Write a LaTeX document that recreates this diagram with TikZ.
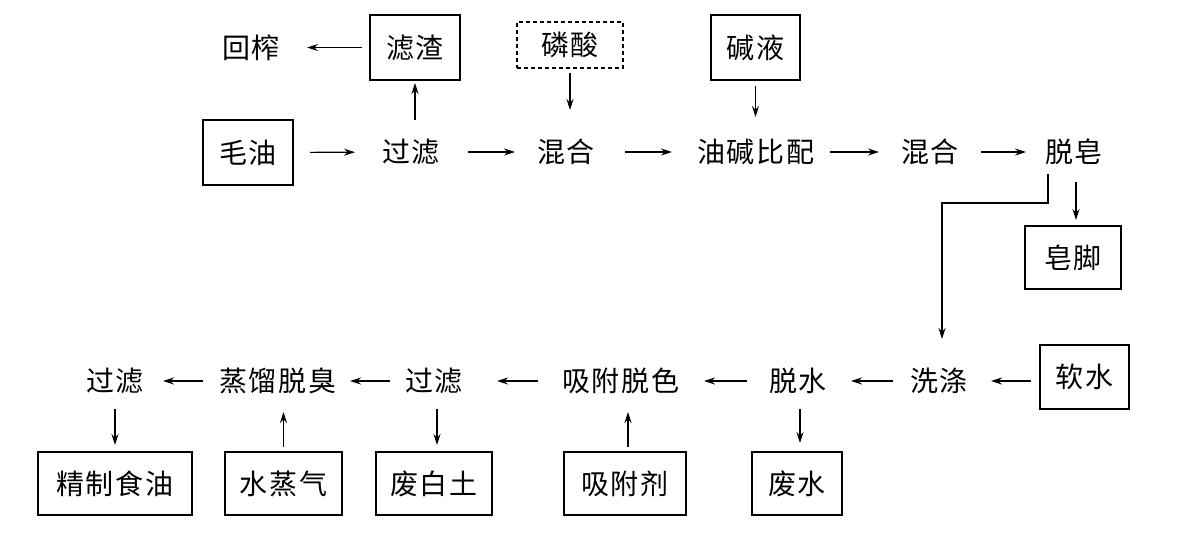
\documentclass[tikz,border=0pt]{standalone}
\usepackage{fontspec}
\newfontfamily\cjk{Noto Sans CJK SC}[LetterSpace=7]
\usetikzlibrary{arrows.meta}
\begin{document}
\begin{tikzpicture}[x=0.5pt,y=-0.5pt,
  every node/.style={font=\cjk\fontsize{14pt}{16pt}\selectfont, inner sep=0pt},
  box/.style={draw, line width=0.7pt},
  dbox/.style={draw, line width=0.7pt, dash pattern=on 2pt off 1.5pt},
  arr/.style={line width=0.55pt, -{Stealth[length=5.5pt,width=3.5pt]}}]
\useasboundingbox (0,0) rectangle (1179,553);
% top row
\node[box, minimum width=45pt, minimum height=32.5pt] (maoyou) at (248,152.5) {毛油};
\node (guolv1) at (411,152) {过滤};
\node (hunhe1) at (566,152) {混合};
\node (youjian) at (756,152) {油碱比配};
\node (hunhe2) at (930,152) {混合};
\node (tuozao) at (1074,152) {脱皂};
\node[box, minimum width=45pt, minimum height=32.5pt] (lvzha) at (415,47.5) {滤渣};
\node (huizha) at (251,48) {回榨};
\node[dbox, minimum width=53pt, minimum height=23pt] (linsuan) at (570,45) {磷酸};
\node[box, minimum width=44.5pt, minimum height=32.5pt] (jianye) at (755.5,47.5) {碱液};
\node[box, minimum width=48pt, minimum height=31.5pt] (zaojiao) at (1073,257.5) {皂脚};
% bottom row
\node (guolvb1) at (115,381) {过滤};
\node (zhengliu) at (278,381) {蒸馏脱臭};
\node (guolvb2) at (434,381) {过滤};
\node (xifutuose) at (621,381) {吸附脱色};
\node (tuoshui) at (798,381) {脱水};
\node (xidi) at (939,381) {洗涤};
\node[box, minimum width=44.5pt, minimum height=32pt] (ruanshui) at (1084.5,377) {软水};
\node[box, minimum width=77pt, minimum height=31.5pt] (jingzhi) at (115,483.5) {精制食油};
\node[box, minimum width=58.5pt, minimum height=31.5pt] (shuizhengqi) at (283.5,483.5) {水蒸气};
\node[box, minimum width=58pt, minimum height=31.5pt] (feibaitu) at (434,483.5) {废白土};
\node[box, minimum width=61pt, minimum height=31.5pt] (xifuji) at (625,483.5) {吸附剂};
\node[box, minimum width=45pt, minimum height=31.5pt] (feishui) at (797,483.5) {废水};
% top row arrows
\draw[arr, shorten <=31pt, shorten >=28pt] (maoyou.center) -- (guolv1.center);
\draw[arr, shorten <=28.5pt, shorten >=25.5pt] (guolv1.center) -- (hunhe1.center);
\draw[arr, shorten <=29.5pt, shorten >=42pt] (hunhe1.center) -- (youjian.center);
\draw[arr, shorten <=37pt, shorten >=25.5pt] (youjian.center) -- (hunhe2.center);
\draw[arr, shorten <=25.5pt, shorten >=24pt] (hunhe2.center) -- (tuozao.center);
\draw[arr, shorten <=16pt, shorten >=17.75pt] (lvzha.center |- guolv1.center) -- (lvzha.center);
\draw[arr, shorten <=26.5pt, shorten >=28pt] (lvzha.center) -- (lvzha.center -| huizha.center);
\draw[arr, shorten <=14pt, shorten >=21pt] (linsuan.center) -- (linsuan.center |- hunhe1.center);
\draw[arr, shorten <=19.25pt, shorten >=17.5pt] (jianye.center) -- (jianye.center |- youjian.center);
\draw[arr, shorten <=15pt, shorten >=18.75pt] ([xshift=1.5pt]zaojiao.center |- tuozao.center) -- ([xshift=1.5pt]zaojiao.center);
\draw[arr, shorten <=11pt, shorten >=21pt] ([xshift=-13pt]tuozao.center) |- ([xshift=1.5pt]xidi.center |- 0,203) -- ([xshift=1.5pt]xidi.center);
% bottom row arrows
\draw[arr, shorten <=26.75pt, shorten >=26pt] (ruanshui.center |- xidi.center) -- (xidi.center);
\draw[arr, shorten <=23pt, shorten >=26.5pt] (xidi.center) -- (tuoshui.center);
\draw[arr, shorten <=25.5pt, shorten >=41.5pt] (tuoshui.center) -- (xifutuose.center);
\draw[arr, shorten <=41.5pt, shorten >=31.5pt] (xifutuose.center) -- (guolvb2.center);
\draw[arr, shorten <=22pt, shorten >=36pt] (guolvb2.center) -- (zhengliu.center);
\draw[arr, shorten <=37.5pt, shorten >=24pt] (zhengliu.center) -- (guolvb1.center);
\draw[arr, shorten <=14pt, shorten >=19.25pt] (guolvb1.center) -- (jingzhi.center);
\draw[arr, shorten <=2pt, shorten >=15.5pt] (shuizhengqi.north) -- (shuizhengqi.north |- zhengliu.center);
\draw[arr, shorten <=14pt, shorten >=19.25pt] ([xshift=1.5pt]guolvb2.center) -- ([xshift=1.5pt]feibaitu.center);
\draw[arr, shorten <=2pt, shorten >=15.5pt] ([xshift=1.5pt]xifuji.north) -- ([xshift=1.5pt]xifuji.north |- xifutuose.center);
\draw[arr, shorten <=14pt, shorten >=20.25pt] ([xshift=1pt]tuoshui.center) -- ([xshift=1pt]tuoshui.center |- feishui.center);
\end{tikzpicture}
\end{document}
